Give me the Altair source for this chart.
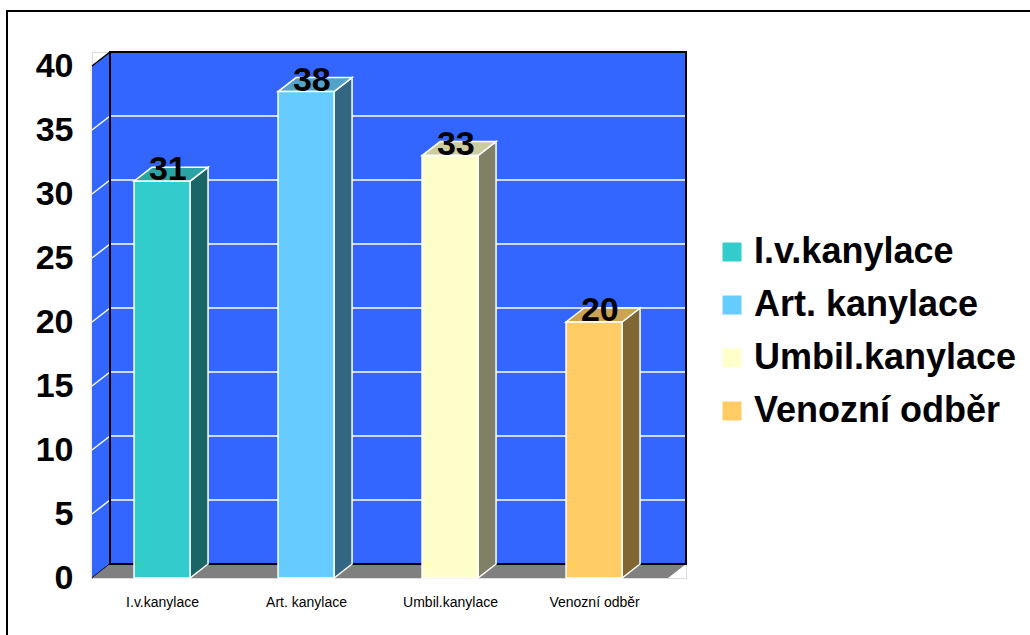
import json
import altair as alt
import pandas as pd

# ---------------- data ----------------
categories = ["I.v.kanylace", "Art. kanylace", "Umbil.kanylace", "Venozní odběr"]
values = [31, 38, 33, 20]
front_colors = ["#33CCCC", "#66CCFF", "#FFFFCC", "#FFCC66"]
side_colors = ["#1A6666", "#336680", "#808066", "#806633"]
top_colors = ["#29A3A3", "#52A3CC", "#CCCCA3", "#CCA352"]
y_ticks = [0, 5, 10, 15, 20, 25, 30, 35, 40]

# ---------------- geometry (style constants, in data units) ----------------
XMAX = 4            # number of category slots on the front plane
YMAX = 40           # top of the value axis
DX = 0.125          # 3-D depth along x
DY = 14 / 12.8      # 3-D depth along y
BAR_OFF = 0.292     # left edge of a bar inside its slot
BAR_W = 0.389       # bar width
FONT = "Liberation Sans"

xs = alt.Scale(domain=[0, XMAX + DX], nice=False, zero=False)
ys = alt.Scale(domain=[0, YMAX + DY], nice=False, zero=False)

label_expr = json.dumps(categories) + "[floor(datum.value)]"
x_axis = alt.Axis(values=[i + BAR_OFF + BAR_W / 2 for i in range(len(categories))],
                  labelExpr=label_expr, domain=False, ticks=False, grid=False,
                  labelFontSize=14, labelFont=FONT, labelColor="black",
                  labelPadding=17, labelFlush=False, labelOverlap=False, title=None)
y_axis = alt.Axis(values=y_ticks, domain=False, ticks=False, grid=False,
                  labelFontSize=34, labelFontWeight="bold", labelFont=FONT,
                  labelColor="black", labelPadding=19, title=None)


def X(f, **kw):
    return alt.X(f, scale=xs, axis=x_axis, title=None, **kw)


def Y(f, **kw):
    return alt.Y(f, scale=ys, axis=y_axis, title=None, **kw)


bars = pd.DataFrame({
    "cat": categories,
    "value": values,
    "x0": [i + BAR_OFF for i in range(len(categories))],
})
bars["x1"] = bars["x0"] + BAR_W
bars["xc"] = bars["x0"] + BAR_W / 2 + 0.04
bars["zero"] = 0

side_rows, top_rows = [], []
for i, (c, v) in enumerate(zip(categories, values)):
    x0 = i + BAR_OFF
    x1 = x0 + BAR_W
    side_rows += [
        {"cat": c, "x": x1, "y": v, "y2": 0, "col": side_colors[i]},
        {"cat": c, "x": x1 + DX, "y": v + DY, "y2": DY, "col": side_colors[i]},
    ]
    top_rows += [
        {"cat": c, "y": v, "x": x0, "x2": x1, "col": top_colors[i]},
        {"cat": c, "y": v + DY, "x": x0 + DX, "x2": x1 + DX, "col": top_colors[i]},
    ]
side = pd.DataFrame(side_rows)
top = pd.DataFrame(top_rows)

wall = pd.DataFrame({"x": [DX], "x2": [XMAX + DX], "y": [DY], "y2": [YMAX + DY]})
left_wall = pd.DataFrame({"x": [0, DX], "y": [YMAX, YMAX + DY], "y2": [0, DY]})
floor = pd.DataFrame({"y": [0, DY], "x": [0, DX], "x2": [XMAX, XMAX + DX]})
left_edge = pd.DataFrame({"x": [0], "y": [0], "y2": [YMAX]})

grid_rows = []
for v in y_ticks:
    col = "black" if v in (0, YMAX) else "white"
    grid_rows.append({"x": 0, "x2": DX, "y": v, "y2": v + DY, "col": col})
    if v not in (0, YMAX):
        grid_rows.append({"x": DX, "x2": XMAX + DX, "y": v + DY, "y2": v + DY, "col": col})
grid = pd.DataFrame(grid_rows)

# ---------------- layers ----------------
back = alt.Chart(wall).mark_rect(fill="#3366FF").encode(
    x=X("x:Q"), x2="x2:Q", y=Y("y:Q"), y2="y2:Q",
)

lw = alt.Chart(left_wall).mark_area(fill="#3366FF", orient="vertical").encode(
    x=X("x:Q"), y=Y("y:Q", stack=None), y2="y2:Q",
)

lw_edge = alt.Chart(left_edge).mark_rule(stroke="#E6E6E6", strokeWidth=1, xOffset=-1).encode(
    x=X("x:Q"), y=Y("y:Q"), y2="y2:Q",
)

fl = alt.Chart(floor).mark_area(fill="#808080", orient="horizontal").encode(
    y=Y("y:Q"), x=X("x:Q", stack=None), x2="x2:Q",
)

gridlines = alt.Chart(grid).mark_rule(strokeWidth=1.5).encode(
    x=X("x:Q"), x2="x2:Q", y=Y("y:Q"), y2="y2:Q",
    stroke=alt.Stroke("col:N", scale=None),
)

outline = alt.Chart(wall).mark_rect(fill=None, fillOpacity=0, stroke="black", strokeWidth=2).encode(
    x=X("x:Q"), x2="x2:Q", y=Y("y:Q"), y2="y2:Q",
)

side_faces = alt.Chart(side).mark_area(orient="vertical", stroke="white", strokeWidth=1.5).encode(
    x=X("x:Q"), y=Y("y:Q", stack=None), y2="y2:Q",
    detail="cat:N",
    fill=alt.Fill("col:N", scale=None),
)

top_faces = alt.Chart(top).mark_area(orient="horizontal", stroke="white", strokeWidth=1.5).encode(
    y=Y("y:Q"), x=X("x:Q", stack=None), x2="x2:Q",
    detail="cat:N",
    fill=alt.Fill("col:N", scale=None),
)

front = alt.Chart(bars).mark_rect(stroke="white", strokeWidth=1.5, opacity=1).encode(
    x=X("x0:Q"), x2="x1:Q", y=Y("value:Q"), y2="zero:Q",
    color=alt.Color("cat:N",
                    scale=alt.Scale(domain=categories, range=front_colors),
                    legend=alt.Legend(orient="none", legendX=622, legendY=182, title=None,
                                      symbolType="square", symbolSize=361,
                                      symbolStrokeWidth=0, symbolOpacity=1,
                                      labelFontSize=36, labelFontWeight="bold",
                                      labelFont=FONT, labelColor="black",
                                      rowPadding=17, labelOffset=4, labelLimit=500)),
)

labels = alt.Chart(bars).mark_text(fontSize=34, fontWeight="bold", font=FONT, color="black",
                                   baseline="alphabetic", align="center", dy=-1).encode(
    x=X("xc:Q"), y=Y("value:Q"), text="value:Q",
)

frame = alt.Chart(pd.DataFrame({"k": [0]})).mark_rect(
    fill=None, fillOpacity=0, stroke="black", strokeWidth=2).encode(
    x=alt.value(-85), x2=alt.value(960), y=alt.value(-41), y2=alt.value(620),
)

chart = alt.layer(
    back, lw, lw_edge, gridlines, fl, outline, side_faces, top_faces, front, labels, frame
).properties(
    width=594, height=526,
    autosize=alt.AutoSizeParams(type="none"),
    padding={"left": 92, "top": 52, "right": 344, "bottom": 57},
    background="white",
).configure_view(strokeWidth=0).configure(font=FONT)

chart.save("out.html", embed_options={"renderer": "svg", "actions": False})
